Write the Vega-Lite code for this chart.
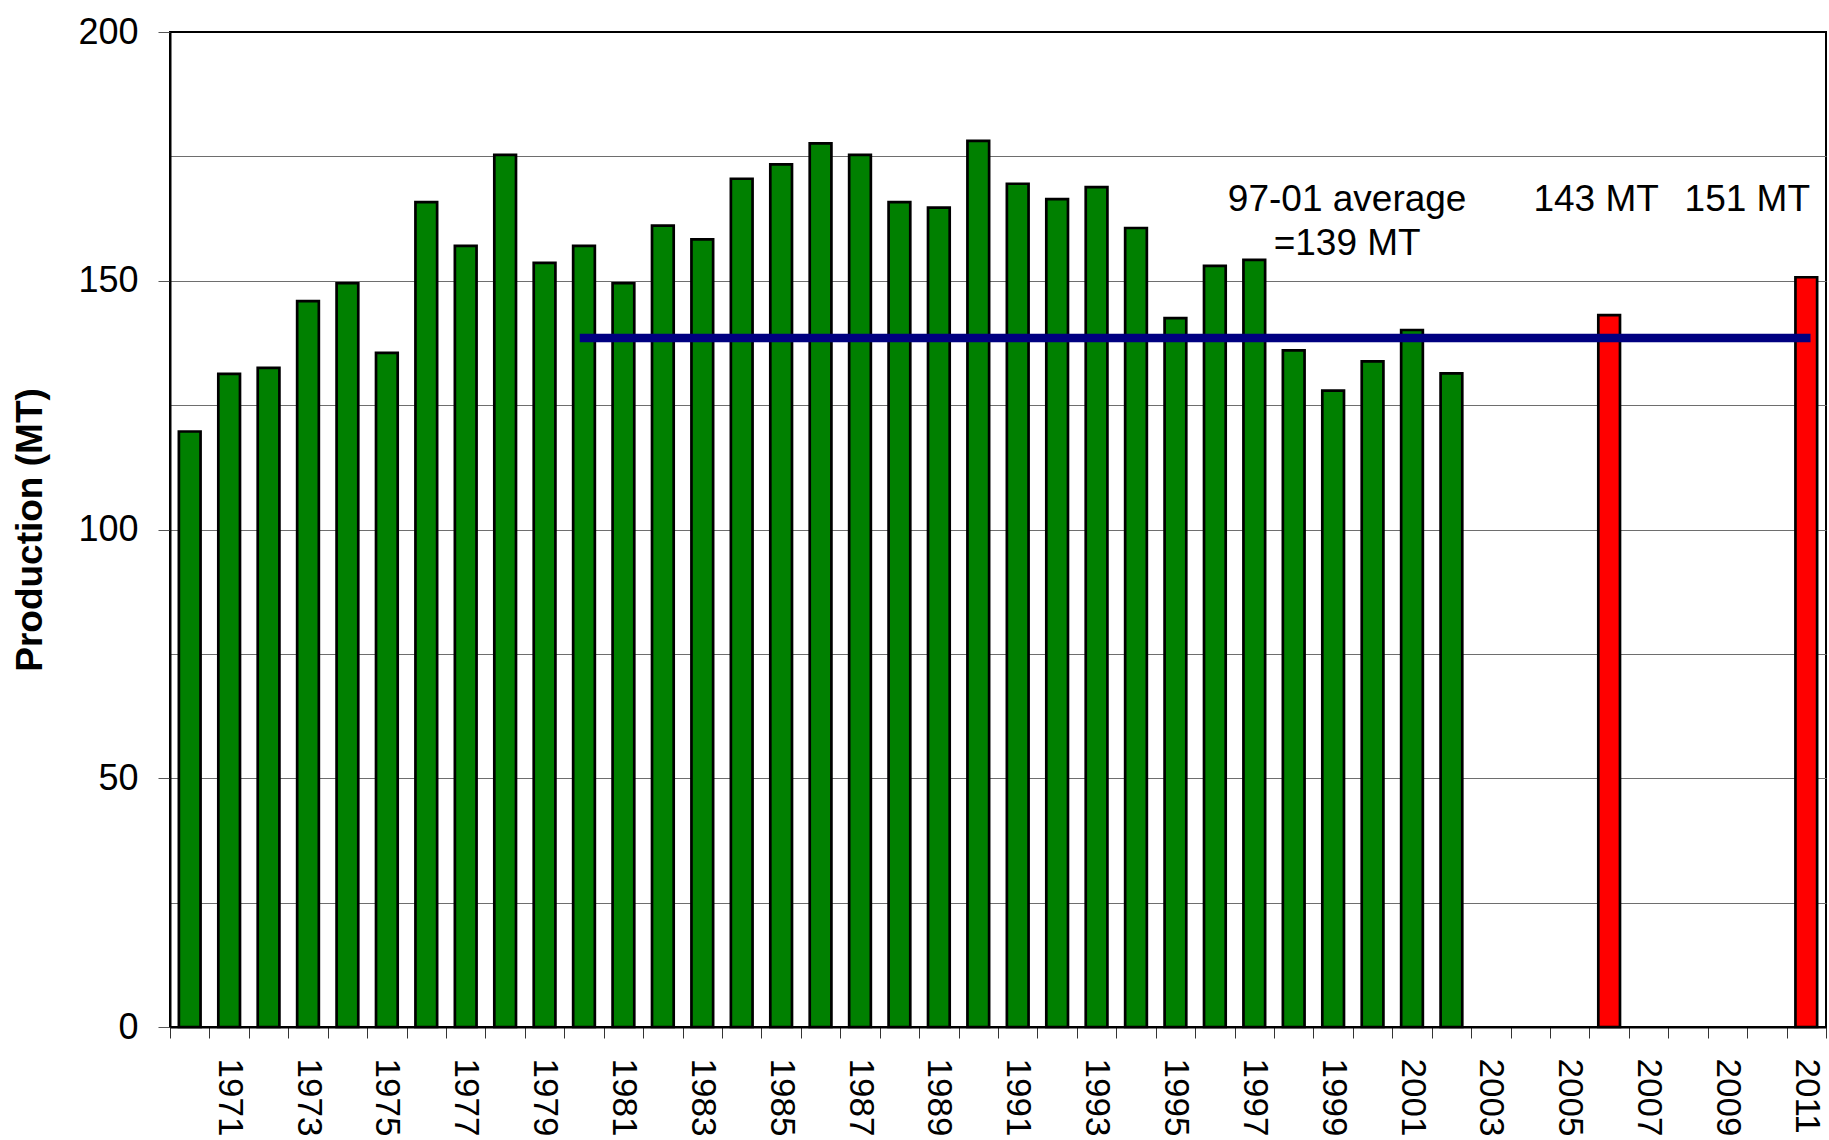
{
  "$schema": "https://vega.github.io/schema/vega-lite/v6.json",
  "width": 1656,
  "height": 995,
  "autosize": {"type": "none"},
  "padding": {"left": 170, "top": 32, "right": 3, "bottom": 113},
  "background": "white",
  "config": {
    "view": {"stroke": "black", "strokeWidth": 2},
    "font": "Liberation Sans",
    "axis": {"labelFont": "Liberation Sans", "titleFont": "Liberation Sans", "labelColor": "black", "titleColor": "black"}
  },
  "datasets": {
    "prod": [
      {"year": 1970, "value": 119.7, "type": "actual"},
      {"year": 1971, "value": 131.3, "type": "actual"},
      {"year": 1972, "value": 132.5, "type": "actual"},
      {"year": 1973, "value": 145.9, "type": "actual"},
      {"year": 1974, "value": 149.5, "type": "actual"},
      {"year": 1975, "value": 135.5, "type": "actual"},
      {"year": 1976, "value": 165.8, "type": "actual"},
      {"year": 1977, "value": 157.0, "type": "actual"},
      {"year": 1978, "value": 175.3, "type": "actual"},
      {"year": 1979, "value": 153.6, "type": "actual"},
      {"year": 1980, "value": 157.0, "type": "actual"},
      {"year": 1981, "value": 149.5, "type": "actual"},
      {"year": 1982, "value": 161.1, "type": "actual"},
      {"year": 1983, "value": 158.3, "type": "actual"},
      {"year": 1984, "value": 170.5, "type": "actual"},
      {"year": 1985, "value": 173.4, "type": "actual"},
      {"year": 1986, "value": 177.6, "type": "actual"},
      {"year": 1987, "value": 175.3, "type": "actual"},
      {"year": 1988, "value": 165.8, "type": "actual"},
      {"year": 1989, "value": 164.7, "type": "actual"},
      {"year": 1990, "value": 178.1, "type": "actual"},
      {"year": 1991, "value": 169.5, "type": "actual"},
      {"year": 1992, "value": 166.4, "type": "actual"},
      {"year": 1993, "value": 168.8, "type": "actual"},
      {"year": 1994, "value": 160.6, "type": "actual"},
      {"year": 1995, "value": 142.5, "type": "actual"},
      {"year": 1996, "value": 153.0, "type": "actual"},
      {"year": 1997, "value": 154.2, "type": "actual"},
      {"year": 1998, "value": 136.0, "type": "actual"},
      {"year": 1999, "value": 127.9, "type": "actual"},
      {"year": 2000, "value": 133.8, "type": "actual"},
      {"year": 2001, "value": 140.1, "type": "actual"},
      {"year": 2002, "value": 131.4, "type": "actual"},
      {"year": 2006, "value": 143.1, "type": "projected"},
      {"year": 2011, "value": 150.7, "type": "projected"}
    ],
    "avg": [{"start": 1980, "end": 2011, "avg": 138.5}],
    "notes": [
      {"id": "a", "year": 1999, "value": 164, "text": "97-01 average"},
      {"id": "a", "year": 1999, "value": 155.1, "text": "=139 MT"},
      {"id": "b", "year": 2006, "value": 164, "text": "143 MT"},
      {"id": "c", "year": 2011, "value": 164, "text": "151 MT"}
    ]
  },
  "resolve": {"axis": {"y": "independent", "x": "independent"}},
  "layer": [
    {
      "data": {"name": "prod"},
      "mark": {"type": "bar", "width": {"band": 0.55}, "stroke": "black", "strokeWidth": 2.7},
      "encoding": {
        "x": {
          "field": "year", "type": "ordinal",
          "scale": {
            "domain": [1970,1971,1972,1973,1974,1975,1976,1977,1978,1979,1980,1981,1982,1983,1984,1985,1986,1987,1988,1989,1990,1991,1992,1993,1994,1995,1996,1997,1998,1999,2000,2001,2002,2003,2004,2005,2006,2007,2008,2009,2010,2011],
            "paddingInner": 0, "paddingOuter": 0
          },
          "axis": {
            "orient": "bottom",
            "title": null,
            "tickBand": "extent",
            "labelExpr": "datum.value % 2 == 1 ? datum.label : ''",
            "labelAngle": 90,
            "labelAlign": "left",
            "labelBaseline": "middle",
            "labelFontSize": 35,
            "labelPadding": 20,
            "labelOverlap": false,
            "tickSize": 11,
            "tickColor": "#333333",
            "tickWidth": 1,
            "domainColor": "black",
            "domainWidth": 2,
            "grid": false
          }
        },
        "y": {
          "field": "value", "type": "quantitative",
          "scale": {"domain": [0, 200], "nice": false},
          "axis": {
            "orient": "left",
            "values": [25, 50, 75, 100, 125, 150, 175],
            "grid": true, "gridColor": "#6e6e6e", "gridWidth": 1,
            "labels": false, "ticks": false, "domain": false, "title": null
          }
        },
        "color": {
          "field": "type", "type": "nominal",
          "scale": {"domain": ["actual", "projected"], "range": ["#008000", "#FF0000"]},
          "legend": null
        }
      }
    },
    {
      "data": {"name": "avg"},
      "mark": {"type": "rule", "color": "#000080", "strokeWidth": 8.5, "strokeCap": "square"},
      "encoding": {
        "x": {"field": "start", "type": "ordinal", "axis": null},
        "x2": {"field": "end"},
        "y": {
          "field": "avg", "type": "quantitative",
          "axis": {
            "orient": "left",
            "values": [0, 50, 100, 150, 200],
            "grid": false,
            "title": "Production (MT)",
            "titleFontSize": 37,
            "titleFontWeight": "bold",
            "titlePadding": 28,
            "labelFontSize": 36,
            "labelPadding": 20,
            "tickSize": 12,
            "tickColor": "#555555",
            "tickWidth": 1,
            "domainColor": "black",
            "domainWidth": 2
          }
        }
      }
    },
    {
      "data": {"name": "notes"},
      "transform": [{"filter": "datum.id == 'a'"}],
      "mark": {"type": "text", "fontSize": 37, "font": "Liberation Sans", "align": "center", "baseline": "alphabetic", "dx": 14, "color": "black"},
      "encoding": {
        "x": {"field": "year", "type": "ordinal", "axis": null},
        "y": {"field": "value", "type": "quantitative", "axis": null},
        "text": {"field": "text"}
      }
    },
    {
      "data": {"name": "notes"},
      "transform": [{"filter": "datum.id == 'b'"}],
      "mark": {"type": "text", "fontSize": 37, "font": "Liberation Sans", "align": "center", "baseline": "alphabetic", "dx": -13, "color": "black"},
      "encoding": {
        "x": {"field": "year", "type": "ordinal", "axis": null},
        "y": {"field": "value", "type": "quantitative", "axis": null},
        "text": {"field": "text"}
      }
    },
    {
      "data": {"name": "notes"},
      "transform": [{"filter": "datum.id == 'c'"}],
      "mark": {"type": "text", "fontSize": 37, "font": "Liberation Sans", "align": "center", "baseline": "alphabetic", "dx": -59, "color": "black"},
      "encoding": {
        "x": {"field": "year", "type": "ordinal", "axis": null},
        "y": {"field": "value", "type": "quantitative", "axis": null},
        "text": {"field": "text"}
      }
    }
  ]
}
